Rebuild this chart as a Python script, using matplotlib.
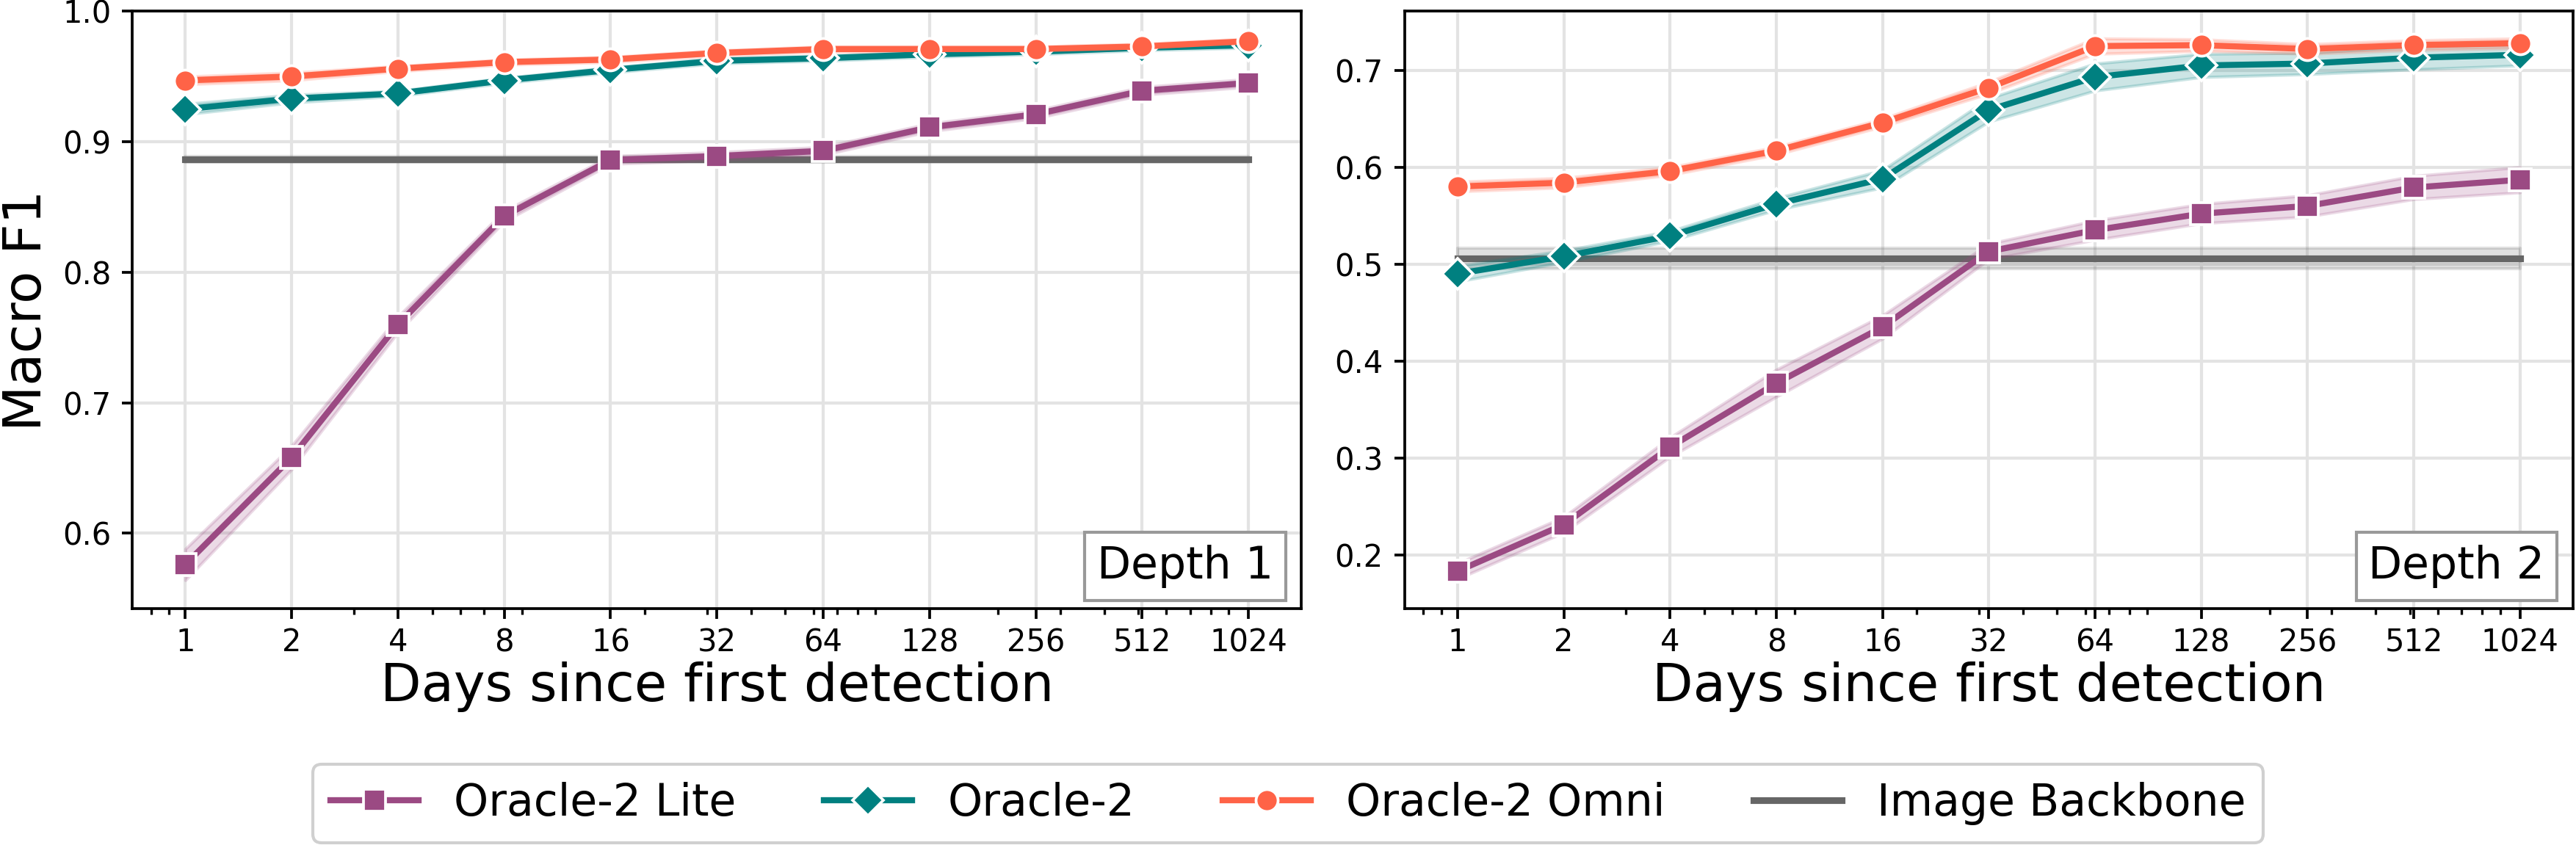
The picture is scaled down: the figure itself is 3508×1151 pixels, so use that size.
import numpy as np
import matplotlib
matplotlib.use("Agg")
import matplotlib.pyplot as plt
from matplotlib.ticker import NullFormatter

# ---------------- data ----------------
days = [1, 2, 4, 8, 16, 32, 64, 128, 256, 512, 1024]
day_labels = ["1", "2", "4", "8", "16", "32", "64", "128", "256", "512", "1024"]
series_names = ["Oracle-2 Lite", "Oracle-2", "Oracle-2 Omni"]
backbone_name = "Image Backbone"
panel_titles = ["Depth 1", "Depth 2"]

# Depth 1
d1_lite = [0.576, 0.658, 0.760, 0.843, 0.886, 0.889, 0.893, 0.911, 0.921, 0.939, 0.945]
d1_oracle = [0.925, 0.933, 0.937, 0.947, 0.955, 0.962, 0.964, 0.967, 0.969, 0.972, 0.974]
d1_omni = [0.947, 0.950, 0.956, 0.961, 0.963, 0.968, 0.971, 0.971, 0.971, 0.973, 0.977]
d1_backbone = 0.8865
d1_lite_ci = [0.012, 0.009, 0.006, 0.004, 0.003, 0.003, 0.003, 0.003, 0.003, 0.003, 0.003]
d1_oracle_ci = [0.004, 0.003, 0.002, 0.002, 0.002, 0.002, 0.002, 0.002, 0.002, 0.002, 0.002]
d1_omni_ci = [0.003, 0.003, 0.002, 0.002, 0.002, 0.002, 0.002, 0.002, 0.002, 0.002, 0.002]
d1_backbone_ci = 0.002

# Depth 2
d2_lite = [0.183, 0.231, 0.311, 0.377, 0.435, 0.513, 0.535, 0.552, 0.560, 0.579, 0.587]
d2_oracle = [0.490, 0.508, 0.529, 0.562, 0.588, 0.659, 0.693, 0.705, 0.707, 0.713, 0.716]
d2_omni = [0.580, 0.584, 0.596, 0.617, 0.646, 0.682, 0.725, 0.726, 0.722, 0.726, 0.728]
d2_backbone = 0.506
d2_lite_ci = [0.008, 0.008, 0.010, 0.014, 0.012, 0.008, 0.010, 0.010, 0.011, 0.012, 0.013]
d2_oracle_ci = [0.008, 0.006, 0.005, 0.006, 0.009, 0.012, 0.014, 0.012, 0.011, 0.012, 0.011]
d2_omni_ci = [0.005, 0.005, 0.004, 0.004, 0.004, 0.006, 0.008, 0.006, 0.005, 0.005, 0.005]
d2_backbone_ci = 0.0105

y_ranges = [(0.542, 1.0), (0.144, 0.761)]
y_ticks = [[0.6, 0.7, 0.8, 0.9, 1.0], [0.2, 0.3, 0.4, 0.5, 0.6, 0.7]]

colors = ["#9B4A83", "#008080", "#FF6347"]
markers = ["s", "D", "o"]
backbone_color = "#666666"

# ---------------- figure ----------------
W, H, DPI = 3508, 1151, 300
fig = plt.figure(figsize=(W / DPI, H / DPI), dpi=DPI)
plt.rcParams["font.family"] = ["DejaVu Sans"]

ax_bottom = 1 - 829.4 / H
ax_top = 1 - 15.3 / H
positions = [
    [180 / W, ax_bottom, (1772.5 - 180) / W, ax_top - ax_bottom],
    [1912.6 / W, ax_bottom, (3504 - 1912.6) / W, ax_top - ax_bottom],
]

panels = [
    ([d1_lite, d1_oracle, d1_omni], [d1_lite_ci, d1_oracle_ci, d1_omni_ci], d1_backbone, d1_backbone_ci),
    ([d2_lite, d2_oracle, d2_omni], [d2_lite_ci, d2_oracle_ci, d2_omni_ci], d2_backbone, d2_backbone_ci),
]

handles = []
for i, (vals, cis, bb, bb_ci) in enumerate(panels):
    ax = fig.add_axes(positions[i])
    x = np.array(days, dtype=float)

    # backbone
    bb_arr = np.full(len(days), bb)
    ax.fill_between(x, bb_arr - bb_ci, bb_arr + bb_ci, color=backbone_color, alpha=0.2, lw=1, zorder=2)
    hb, = ax.plot(x, bb_arr, color=backbone_color, lw=2.2, zorder=2.5, label=backbone_name)

    hs = []
    for k in range(3):
        v = np.array(vals[k])
        c = np.array(cis[k])
        ax.fill_between(x, v - c, v + c, color=colors[k], alpha=0.2, lw=1, zorder=3)
        h, = ax.plot(x, v, color=colors[k], lw=2, marker=markers[k], markersize=7.2 if markers[k] != "D" else 7.0,
                     markeredgecolor="white", markeredgewidth=0.9, zorder=4 + k, label=series_names[k])
        hs.append(h)
    if i == 0:
        handles = hs + [hb]

    ax.set_xscale("log")
    ax.set_xlim(2 ** -0.5, 2 ** 10.5)
    ax.set_xticks(days)
    ax.set_xticklabels(day_labels)
    ax.xaxis.set_minor_formatter(NullFormatter())
    ax.set_ylim(*y_ranges[i])
    ax.set_yticks(y_ticks[i])
    ax.set_yticklabels([f"{t:.1f}" for t in y_ticks[i]])

    ax.grid(True, which="major", color="#e3e3e3", lw=1.0, zorder=0)
    ax.set_axisbelow(True)
    ax.tick_params(axis="both", which="major", labelsize=10, length=3.4, width=0.9, color="black")
    ax.tick_params(axis="x", which="major", pad=2.6)
    ax.tick_params(axis="x", which="minor", length=2.0, width=0.8)
    for sp in ax.spines.values():
        sp.set_linewidth(0.9)
        sp.set_color("black")

    ax.set_xlabel("Days since first detection", fontsize=17.3)
    ax.xaxis.set_label_coords(0.5, -(901.5 - 829.4) / 814.4)
    if i == 0:
        ax.set_ylabel("Macro F1", fontsize=17.3)
        ax.yaxis.set_label_coords((70.6 - 180) / 1592.5, 0.5)

    ax.text(0.9758, 0.035, panel_titles[i], transform=ax.transAxes, ha="right", va="bottom",
            fontsize=14.4, zorder=10,
            bbox=dict(boxstyle="square,pad=0.28", facecolor="white", edgecolor="#999999", lw=1.0))

fig.legend(handles=handles, labels=[h.get_label() for h in handles], loc="lower center",
           bbox_to_anchor=(0.5, 0.003), ncol=4, fontsize=14.4, frameon=True, fancybox=True,
           edgecolor="#d0d0d0", framealpha=1.0, borderaxespad=0.0)

fig.savefig("out.png", dpi=DPI)
